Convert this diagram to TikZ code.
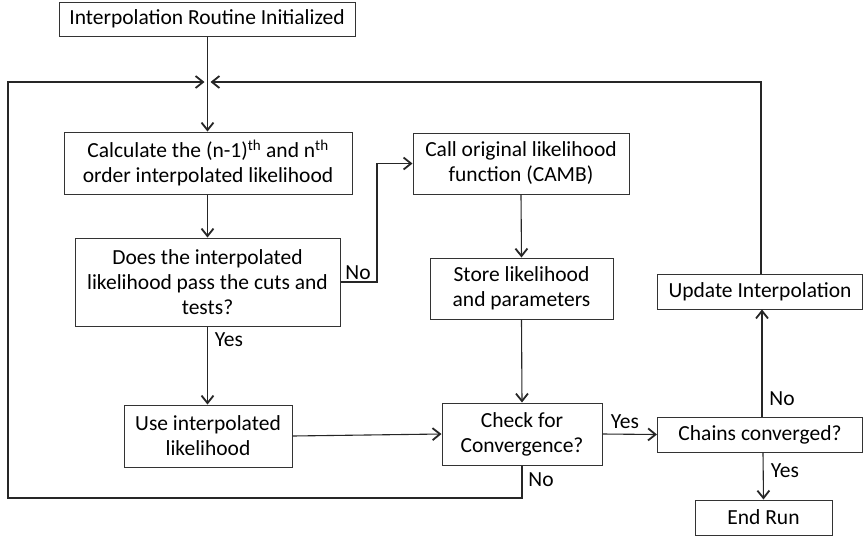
\documentclass[tikz,border=0pt]{standalone}
\usepackage{fontspec}
\setmainfont{Carlito}
\usetikzlibrary{arrows.meta}
\begin{document}
\begin{tikzpicture}[x=1pt,y=-1pt,
  box/.style={draw=black!80,line width=1pt,align=center,inner sep=0pt,
    font=\fontsize{21.5}{25}\selectfont},
  lbl/.style={font=\fontsize{21.5}{25}\selectfont,inner sep=0pt},
  conn/.style={line width=1.1pt,draw=black!85},
  arr/.style={conn,-{Straight Barb[length=7.5pt,width=12pt,line width=1.8pt]}}]
\useasboundingbox (0,0) rectangle (863,539);
\node[box,minimum width=296pt,minimum height=34pt] (init) at (207,19) {Interpolation Routine Initialized};
\node[box,minimum width=288pt,minimum height=62pt] (calc) at (208,163) {Calculate the (n-1)\textsuperscript{th} and n\textsuperscript{th}\\order interpolated likelihood};
\node[box,minimum width=216pt,minimum height=61pt] (call) at (521,163.5) {Call original likelihood\\function (CAMB)};
\node[box,minimum width=265pt,minimum height=88pt] (does) at (207.5,282) {Does the interpolated\\likelihood pass the cuts and\\tests?};
\node[box,minimum width=183pt,minimum height=61pt] (store) at (521.5,288.5) {Store likelihood\\and parameters};
\node[box,minimum width=205pt,minimum height=35pt] (update) at (760,291.5) {Update Interpolation};
\node[box,minimum width=168pt,minimum height=62pt] (use) at (208,436) {Use interpolated\\likelihood};
\node[box,minimum width=160pt,minimum height=62pt] (check) at (522,434) {Check for\\Convergence?};
\node[box,minimum width=205pt,minimum height=35pt] (chains) at (760,434.5) {Chains converged?};
\node[box,minimum width=137pt,minimum height=35pt] (endrun) at (763.5,517.5) {End Run};
\coordinate (j) at (207.5,82);
\coordinate (jl) at (204.5,82);
\coordinate (jr) at (210.5,82);
\coordinate (nobend) at (377,282);
\coordinate (bl) at (8,498);
% connectors
\draw[arr] (init.south -| j) -- (calc.north -| j);
\draw[arr] (calc.south -| j) -- (does.north -| j);
\draw[arr] (does.east) -- (nobend) |- (call.west);
\draw[arr] (call.south) -- (store.north);
\draw[arr] (does.south -| j) -- (use.north -| j);
\draw[arr] (store.south) -- (check.north);
\draw[arr] (use.east) -- (check.west);
\draw[arr] (check.east) -- (chains.west);
\draw[arr] (check.south) |- (bl) |- (jl);
\draw[arr] ([xshift=2pt]chains.north) -- ([xshift=2pt]update.south);
\draw[arr] ([xshift=3pt]chains.south) -- (endrun.north);
\draw[arr] ([xshift=1pt]update.north) |- (jr);
% labels
\node[lbl] (lno1) at (358,273) {No};
\node[lbl] (lyes1) at (229,340) {Yes};
\node[lbl] (lyes2) at (625,422) {Yes};
\node[lbl] (lno2) at (541,480) {No};
\node[lbl] (lno3) at (782,399) {No};
\node[lbl] (lyes3) at (785,471) {Yes};
\end{tikzpicture}
\end{document}
